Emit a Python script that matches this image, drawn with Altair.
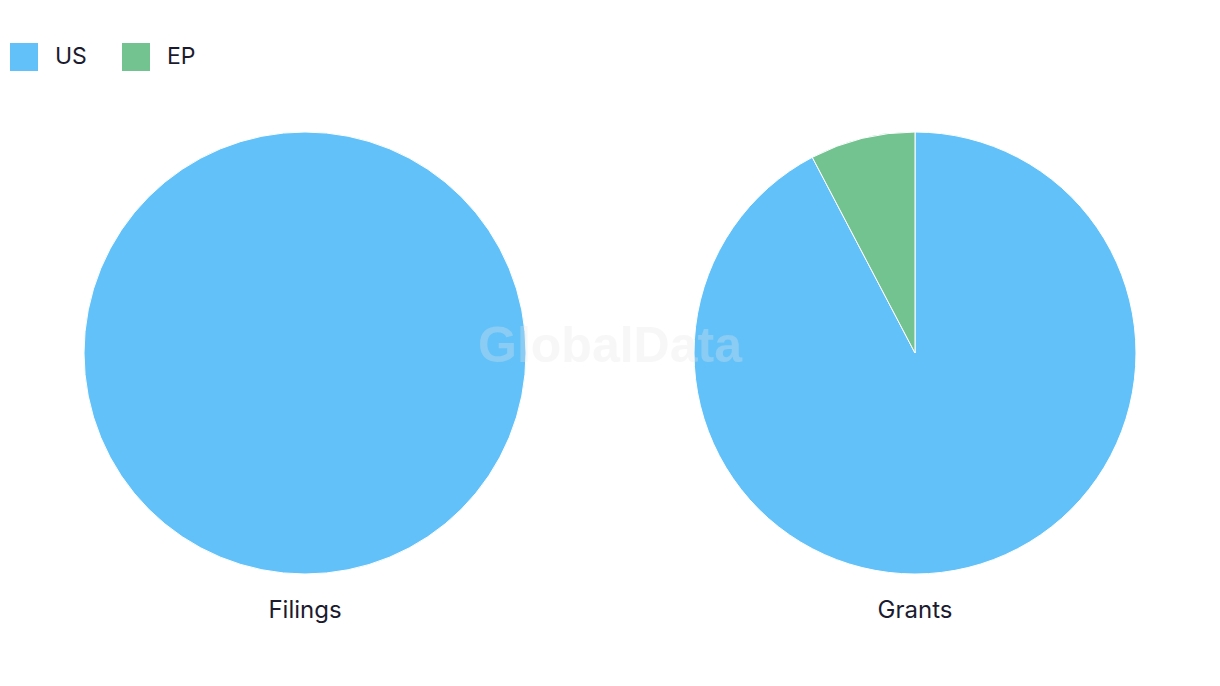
import altair as alt
import pandas as pd

series = ["US", "EP"]
colors = ["#62C1F9", "#73C391"]

filings_series = ["US"]
filings_values = [100]

grants_series = ["US", "EP"]
grants_values = [12, 1]

panel_titles = ["Filings", "Grants"]

W, H = 1204, 670
R = 221
centers = [(297, 345), (907, 345)]

font = "Inter"
text_color = "#1B1B2F"

color_scale = alt.Scale(domain=series, range=colors)


def pie(names, values, cx, cy, show_legend):
    df = pd.DataFrame({"series": names, "value": values,
                       "order": [series.index(n) for n in names]})
    legend = alt.Legend(
        title=None, orient="none", legendX=2, legendY=35, direction="horizontal",
        symbolType="square", symbolSize=784, symbolStrokeWidth=0, symbolOpacity=1,
        labelFontSize=23, labelColor=text_color, labelFont=font, labelOffset=17,
        columnPadding=35, padding=0,
    ) if show_legend else None
    return alt.Chart(df).mark_arc(outerRadius=R, stroke="white", strokeWidth=1).encode(
        theta=alt.Theta("value:Q", stack=True),
        color=alt.Color("series:N", scale=color_scale, legend=legend),
        order=alt.Order("order:Q"),
        x=alt.value(cx),
        y=alt.value(cy),
    )


p1 = pie(filings_series, filings_values, *centers[0], True)
p2 = pie(grants_series, grants_values, *centers[1], False)

lab_df = pd.DataFrame({"label": panel_titles,
                       "x": [c[0] for c in centers],
                       "y": [c[1] + 258 for c in centers]})
labels = alt.Chart(lab_df).mark_text(
    fontSize=24, font=font, color=text_color, baseline="middle", align="center"
).encode(
    text="label:N",
    x=alt.X("x:Q", scale=alt.Scale(domain=[0, W], range=[0, W]), axis=None),
    y=alt.Y("y:Q", scale=alt.Scale(domain=[0, H], range=[0, H]), axis=None),
)

wm = alt.Chart(pd.DataFrame({"t": ["GlobalData"]})).mark_text(
    fontSize=50, font="Liberation Sans", fontWeight="bold", color="#E6E6E6",
    opacity=0.3, align="center", baseline="middle"
).encode(text="t:N", x=alt.value(602), y=alt.value(339))

chart = alt.layer(p1, p2, labels, wm).properties(
    width=W, height=H, autosize=alt.AutoSizeParams(type="none"), padding=0
).configure_view(stroke=None).resolve_scale(color="shared", theta="independent")

chart.save("out.html", embed_options={"renderer": "svg", "actions": False})
